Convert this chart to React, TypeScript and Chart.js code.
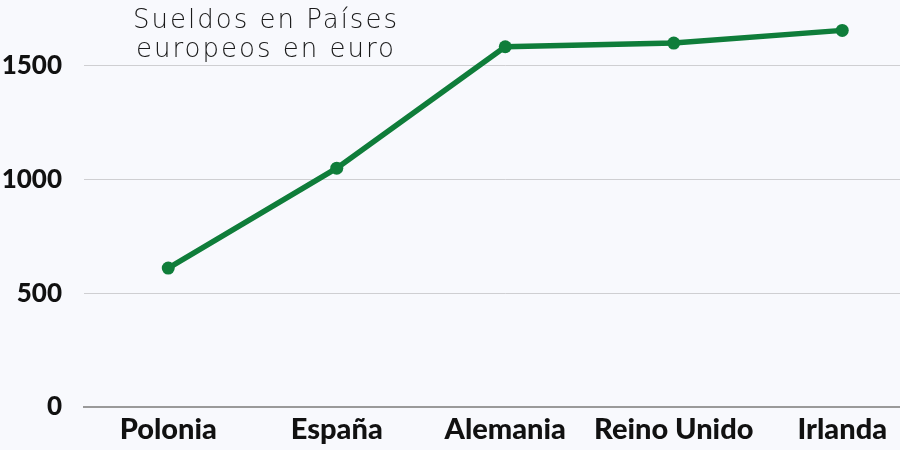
import React, { useEffect, useRef } from "react";
import { Chart, registerables } from "chart.js";

Chart.register(...registerables);

const categories = ["Polonia", "España", "Alemania", "Reino Unido", "Irlanda"];
const sueldos = [611, 1050, 1584, 1600, 1656];
const yTicks = [0, 500, 1000, 1500];
const titleLines = ["Sueldos en Países", "europeos en euro"];

const GREEN = "#0f7d3a";

const titlePlugin = {
  id: "overlayTitle",
  afterDraw(chart: any) {
    const ctx = chart.ctx;
    ctx.save();
    ctx.fillStyle = "#1a1a1a";
    ctx.font = "200 26px 'DejaVu Sans', sans-serif";
    (ctx as any).letterSpacing = "2px";
    ctx.textAlign = "center";
    ctx.textBaseline = "alphabetic";
    titleLines.forEach((line, i) => {
      ctx.fillText(line, 266, 28 + i * 29);
    });
    ctx.restore();
  },
};

export default function App() {
  const ref = useRef<HTMLCanvasElement | null>(null);

  useEffect(() => {
    if (!ref.current) return;
    const chart = new Chart(ref.current, {
      type: "line",
      data: {
        labels: categories,
        datasets: [
          {
            data: sueldos,
            borderColor: GREEN,
            backgroundColor: GREEN,
            borderWidth: 5.5,
            pointRadius: 6.5,
            pointHoverRadius: 6.5,
            pointBackgroundColor: GREEN,
            pointBorderWidth: 0,
            tension: 0,
          },
        ],
      },
      options: {
        animation: false,
        responsive: false,
        maintainAspectRatio: false,
        layout: { padding: { top: 9, left: 0, right: 0, bottom: 0 } },
        plugins: {
          legend: { display: false },
          title: { display: false },
          tooltip: { enabled: false },
        },
        scales: {
          x: {
            offset: true,
            grid: { display: false, drawTicks: false },
            border: { display: true, color: "#9a9a9a", width: 2 },
            ticks: {
              color: "#111111",
              font: { family: "Lato, 'DejaVu Sans', sans-serif", size: 29, weight: 900 },
              padding: 5,
              maxRotation: 0,
              autoSkip: false,
            },
            afterFit(scale: any) {
              scale.height = 43;
            },
          },
          y: {
            min: 0,
            max: 1750,
            grid: { color: "#cfcfd2", lineWidth: 1, drawTicks: false },
            border: { display: false },
            ticks: {
              stepSize: 500,
              color: "#111111",
              font: { family: "Lato, 'DejaVu Sans', sans-serif", size: 26, weight: 900 },
              padding: 22,
              callback: (v: any) => String(v),
            },
            afterBuildTicks(scale: any) {
              scale.ticks = yTicks.map((v) => ({ value: v }));
            },
            afterFit(scale: any) {
              scale.width = 84;
              scale.paddingTop = 0;
              scale.paddingBottom = 0;
            },
          },
        },
      },
      plugins: [titlePlugin],
    });
    return () => chart.destroy();
  }, []);

  return (
    <div
      style={{
        position: "fixed",
        top: 0,
        left: 0,
        width: 900,
        height: 450,
        overflow: "hidden",
        background: "#f8f9fd",
      }}
    >
      <canvas ref={ref} width={933} height={450} style={{ display: "block" }} />
    </div>
  );
}
